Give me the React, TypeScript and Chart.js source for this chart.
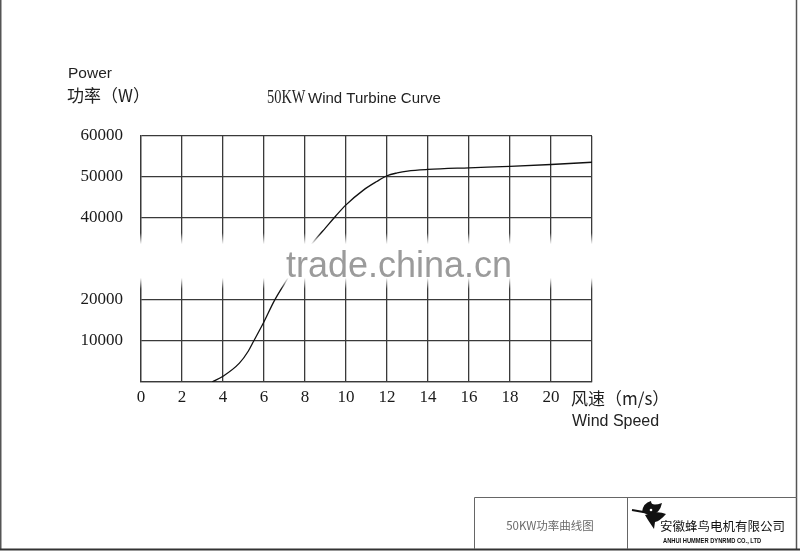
import React, { useEffect, useRef } from "react";
import { Chart, registerables } from "chart.js";

Chart.register(...registerables);

// ---- data ----
const windSpeed = [3.47, 4, 4.8, 5.23, 5.5, 6, 6.5, 7, 7.5, 8, 8.5, 9, 9.5, 10, 10.85, 11.5, 12, 12.5, 13, 14, 16, 18, 20, 22];
const power = [0, 1400, 4600, 7500, 10000, 14700, 19800, 24000, 28000, 31500, 34700, 37600, 40500, 43200, 46800, 48900, 50300, 51000, 51450, 51850, 52250, 52600, 53050, 53600];

const xMin = 0;
const xMax = 22;
const xStep = 2;
const yMin = 0;
const yMax = 60000;
const yStep = 10000;

const titleNumber = "50KW";
const titleText = "Wind Turbine Curve";
const yTitleEn = "Power";
const yTitleCn = "功率（W）";
const xTitleCn = "风速（m/s）";
const xTitleEn = "Wind Speed";
const watermark = "trade.china.cn";
const boxCaption = "50KW功率曲线图";
const companyCn = "安徽蜂鸟电机有限公司";
const companyEn = "ANHUI HUMMER DYNRMD CO., LTD";

const decorPlugin = {
  id: "decor",
  beforeDraw(chart: any) {
    const ctx = chart.ctx;
    ctx.save();
    ctx.fillStyle = "#ffffff";
    ctx.fillRect(0, 0, chart.width, chart.height);
    ctx.restore();
  },
  afterDraw(chart: any) {
    const ctx = chart.ctx;
    const W = chart.width;
    ctx.save();

    // watermark band
    const g = ctx.createLinearGradient(0, 233, 0, 289);
    g.addColorStop(0, "rgba(255,255,255,0)");
    g.addColorStop(0.2, "rgba(255,255,255,1)");
    g.addColorStop(0.8, "rgba(255,255,255,1)");
    g.addColorStop(1, "rgba(255,255,255,0)");
    ctx.fillStyle = g;
    ctx.fillRect(0, 233, W - 6, 56);
    ctx.fillStyle = "#9b9b9b";
    ctx.font = "36px 'Liberation Sans', Arial, sans-serif";
    ctx.textBaseline = "alphabetic";
    ctx.textAlign = "left";
    ctx.fillText(watermark, 286, 277);

    // frame
    ctx.strokeStyle = "#555";
    ctx.lineWidth = 1.5;
    ctx.beginPath();
    ctx.moveTo(0.75, 0);
    ctx.lineTo(0.75, 550);
    ctx.moveTo(796.5, 0);
    ctx.lineTo(796.5, 550);
    ctx.stroke();
    ctx.strokeStyle = "#333";
    ctx.lineWidth = 2;
    ctx.beginPath();
    ctx.moveTo(0, 549.5);
    ctx.lineTo(W, 549.5);
    ctx.stroke();
    ctx.strokeStyle = "#666";
    ctx.lineWidth = 1;
    ctx.beginPath();
    ctx.moveTo(474.5, 497.5);
    ctx.lineTo(797, 497.5);
    ctx.moveTo(474.5, 497.5);
    ctx.lineTo(474.5, 549);
    ctx.moveTo(627.5, 497.5);
    ctx.lineTo(627.5, 549);
    ctx.stroke();

    // y titles
    ctx.fillStyle = "#222";
    ctx.font = "15.5px 'Liberation Sans', Arial, sans-serif";
    ctx.fillText(yTitleEn, 68, 78);
    ctx.font = "17px 'Noto Sans CJK SC', sans-serif";
    ctx.fillText(yTitleCn, 67, 102);

    // title
    ctx.save();
    ctx.translate(267, 103);
    ctx.scale(0.8, 1);
    ctx.font = "18px 'Liberation Serif', serif";
    ctx.fillText(titleNumber, 0, 0);
    ctx.restore();
    ctx.font = "15px 'Liberation Sans', Arial, sans-serif";
    ctx.fillText(titleText, 308, 103);

    // x titles
    ctx.font = "17px 'Noto Sans CJK SC', sans-serif";
    ctx.fillText(xTitleCn, 571, 405);
    ctx.font = "16px 'Liberation Sans', Arial, sans-serif";
    ctx.fillText(xTitleEn, 572, 426);

    // box caption
    ctx.fillStyle = "#6a6a6a";
    ctx.font = "11.5px 'Noto Sans CJK SC', serif";
    ctx.textAlign = "center";
    ctx.fillText(boxCaption, 550, 530);

    // logo bird (rough)
    ctx.fillStyle = "#111";
    ctx.strokeStyle = "#111";
    ctx.lineWidth = 2.2;
    ctx.beginPath();
    ctx.moveTo(632, 510);
    ctx.lineTo(649, 513);
    ctx.stroke();
    ctx.beginPath();
    ctx.moveTo(642, 512);
    ctx.quadraticCurveTo(643, 503, 651, 501);
    ctx.quadraticCurveTo(651, 507, 662, 503);
    ctx.quadraticCurveTo(660, 513, 651, 516);
    ctx.closePath();
    ctx.fill();
    ctx.beginPath();
    ctx.moveTo(645, 515);
    ctx.quadraticCurveTo(657, 510, 666, 514);
    ctx.quadraticCurveTo(660, 521, 655, 522);
    ctx.lineTo(654, 529);
    ctx.lineTo(648, 520);
    ctx.closePath();
    ctx.fill();
    ctx.fillStyle = "#fff";
    ctx.beginPath();
    ctx.arc(651, 510, 1.3, 0, Math.PI * 2);
    ctx.fill();

    ctx.fillStyle = "#111";
    ctx.textAlign = "left";
    ctx.font = "12.5px 'Noto Sans CJK SC', sans-serif";
    ctx.fillText(companyCn, 660, 531);
    ctx.save();
    ctx.translate(663, 543);
    ctx.scale(0.82, 1);
    ctx.font = "bold 7px 'Liberation Sans', Arial, sans-serif";
    ctx.fillText(companyEn, 0, 0);
    ctx.restore();

    ctx.restore();
  },
};

export default function App() {
  const canvasRef = useRef<HTMLCanvasElement | null>(null);

  useEffect(() => {
    const canvas = canvasRef.current;
    if (!canvas) return;
    const points = windSpeed.map((v, i) => ({ x: v, y: power[i] }));
    const gridColor = "#3a3a3a";
    const chart = new Chart(canvas, {
      type: "line",
      data: {
        datasets: [
          {
            data: points,
            borderColor: "#111",
            borderWidth: 1.3,
            pointRadius: 0,
            cubicInterpolationMode: "monotone",
            fill: false,
          },
        ],
      },
      options: {
        responsive: false,
        animation: false,
        events: [],
        layout: { padding: { left: 0, top: 136, right: 208, bottom: 130 } },
        plugins: {
          legend: { display: false },
          tooltip: { enabled: false },
          title: { display: false },
        },
        scales: {
          x: {
            type: "linear",
            min: xMin,
            max: xMax,
            afterFit: (s: any) => {
              s.height = 40;
            },
            ticks: {
              stepSize: xStep,
              autoSkip: false,
              maxRotation: 0,
              padding: 5,
              color: "#1a1a1a",
              font: { family: "'Liberation Serif', serif", size: 17 },
              callback: (v: any) => (v === xMax ? "" : String(v)),
            },
            grid: { color: gridColor, lineWidth: 1.3, drawTicks: false },
            border: { color: gridColor, width: 1.3 },
          },
          y: {
            type: "linear",
            min: yMin,
            max: yMax,
            afterFit: (s: any) => {
              s.width = 141;
            },
            ticks: {
              stepSize: yStep,
              autoSkip: false,
              padding: 18,
              color: "#1a1a1a",
              font: { family: "'Liberation Serif', serif", size: 17 },
              callback: (v: any) => (v === yMin ? "" : String(v)),
            },
            grid: { color: gridColor, lineWidth: 1.3, drawTicks: false },
            border: { color: gridColor, width: 1.3 },
          },
        },
      },
      plugins: [decorPlugin],
    });
    return () => chart.destroy();
  }, []);

  return (
    <div style={{ position: "absolute", left: 0, top: 0, width: 800, height: 552, background: "#fff" }}>
      <canvas ref={canvasRef} width={800} height={552} style={{ display: "block", width: 800, height: 552 }} />
    </div>
  );
}
